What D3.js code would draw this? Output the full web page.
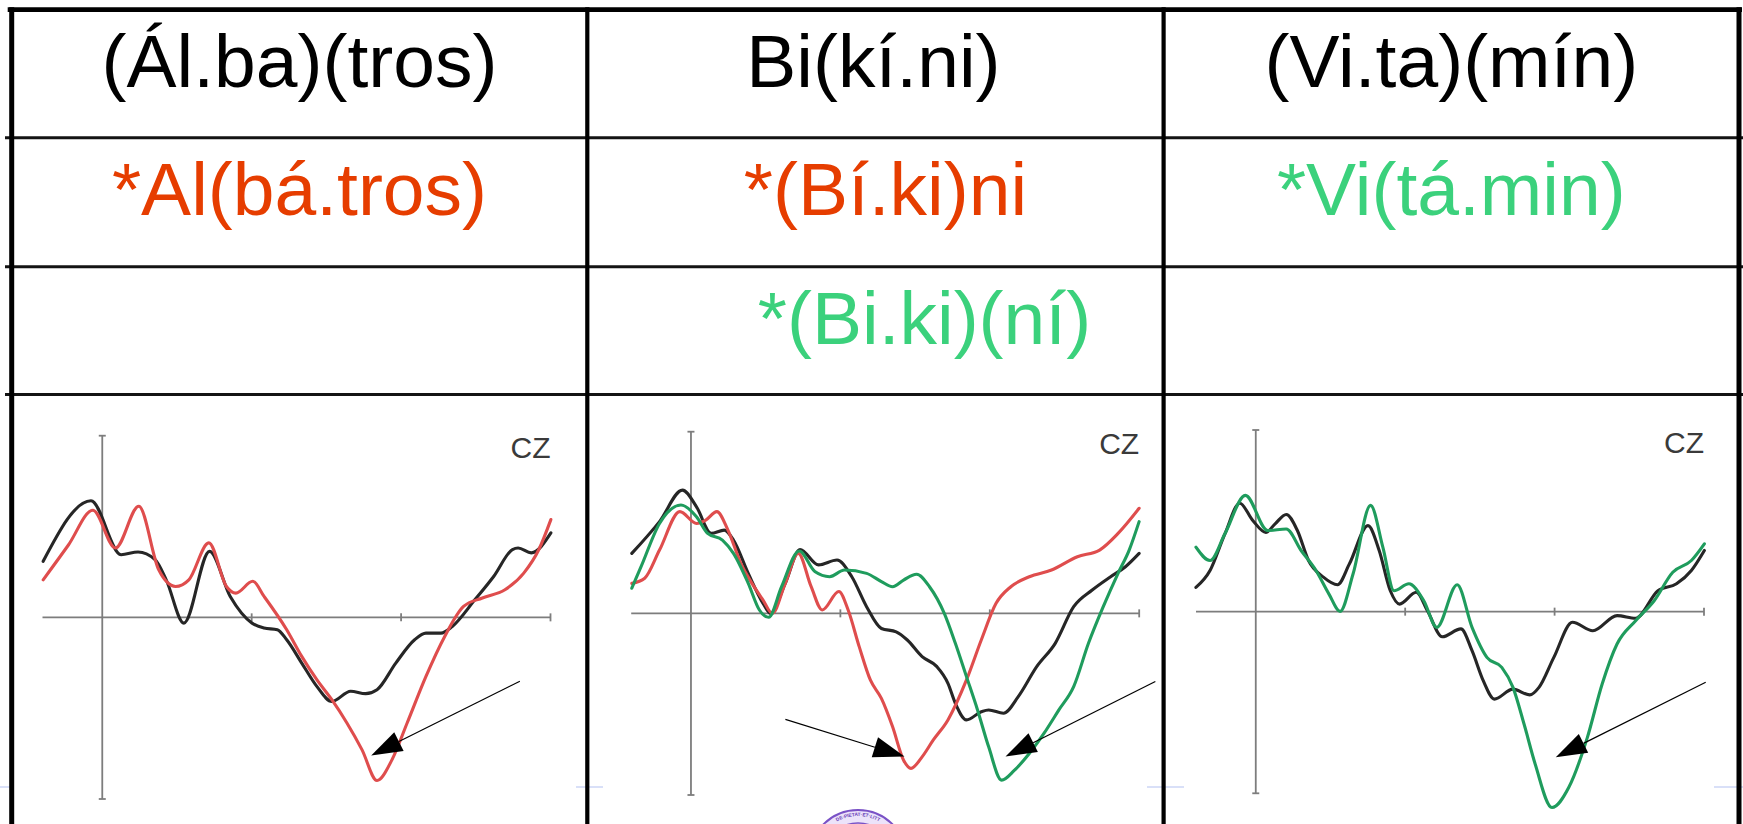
<!DOCTYPE html>
<html>
<head>
<meta charset="utf-8">
<script src="https://cdn.jsdelivr.net/npm/d3@7"></script>
<style>
  html, body { margin: 0; padding: 0; background: #fff; }
  svg { display: block; }
</style>
</head>
<body>
<svg id="chart" width="1743" height="824"></svg>
<script>
// ---------- table text ----------
const wordsRow1 = ["(Ál.ba)(tros)", "Bi(kí.ni)", "(Vi.ta)(mín)"];
const wordsRow2 = ["*Al(bá.tros)", "*(Bí.ki)ni", "*Vi(tá.min)"];
const wordsRow3 = ["", "*(Bi.ki)(ní)", ""];
const kindsRow2 = ["shiftLeft", "shiftLeft", "shiftRight"];
const kindsRow3 = ["", "shiftRight", ""];
const channelLabel = "CZ";
const sealText = "DE·PIETAT·ET·LITT";

// ---------- ERP axes ----------
const timeDomain = [-80, 600];      // ms
const timeTicks = [200, 400, 600];  // ms
const ampDomain = [-6, 6];          // µV

// ---------- Cz waveforms: [time (ms), amplitude (µV)] ----------
const albatrosControl = [
  [-79.1, 1.85], [-15.1, 3.85], [25.2, 2.07], [47.9, 2.16], [70.5, 1.91], [85.6, 1.24],
  [109.3, -0.19], [143.6, 2.18], [171.3, 0.69], [200.5, -0.19], [216.6, -0.35], [234.3, -0.41],
  [246.9, -0.74], [267.0, -1.51], [287.2, -2.28], [307.3, -2.78], [332.5, -2.44], [352.6, -2.52],
  [367.8, -2.39], [392.9, -1.51], [418.1, -0.74], [433.3, -0.52], [453.4, -0.52], [468.5, -0.30],
  [498.7, 0.58], [523.9, 1.35], [549.1, 2.24], [556.7, 2.29], [574.3, 2.13], [600.5, 2.79]
];
const albatrosShiftLeft = [
  [-79.1, 1.24], [-45.3, 2.39], [-12.6, 3.54], [17.6, 2.29], [48.9, 3.67], [75.6, 1.57],
  [98.2, 1.02], [115.9, 1.24], [142.6, 2.46], [166.2, 1.02], [178.8, 0.80], [201.5, 1.19],
  [216.6, 0.69], [246.9, -0.41], [267.0, -1.29], [287.2, -2.06], [307.3, -2.72], [327.5, -3.49],
  [347.6, -4.37], [367.8, -5.39], [387.9, -4.70], [408.1, -3.49], [433.3, -1.95], [458.4, -0.63],
  [483.6, 0.36], [508.8, 0.64], [539.0, 0.91], [564.2, 1.46], [584.4, 2.24], [600.5, 3.23]
];

const bikiniControl = [
  [-79.2, 1.98], [-42.1, 3.03], [-11.4, 4.07], [7.4, 3.52], [27.2, 2.64], [44.6, 2.75],
  [56.9, 2.42], [76.7, 1.32], [96.5, 0.33], [106.4, 0.00], [126.2, 0.99], [146.0, 2.11],
  [170.8, 1.60], [195.5, 1.76], [215.3, 1.21], [235.1, 0.22], [254.9, -0.50], [274.7, -0.61],
  [289.6, -0.88], [309.4, -1.43], [329.2, -1.76], [344.0, -2.31], [353.9, -2.97], [368.8, -3.52],
  [388.6, -3.25], [398.5, -3.19], [418.3, -3.30], [438.1, -2.75], [462.8, -1.76], [487.6, -0.99],
  [512.3, 0.22], [537.1, 0.77], [561.8, 1.21], [581.6, 1.54], [599.9, 1.98]
];
const bikiniShiftLeft = [
  [-79.2, 0.99], [-61.9, 1.16], [-42.1, 2.09], [-14.9, 3.36], [7.4, 2.97], [19.8, 3.08],
  [34.7, 3.36], [49.5, 2.75], [66.8, 1.65], [81.7, 0.99], [96.5, 0.44], [108.9, 0.00],
  [126.2, 0.99], [143.6, 1.98], [160.9, 0.88], [175.7, 0.11], [198.0, 0.72], [210.4, 0.11],
  [225.2, -1.10], [240.1, -2.20], [254.9, -2.81], [269.8, -3.74], [284.6, -4.85], [294.5, -5.12],
  [309.4, -4.74], [324.2, -4.19], [344.0, -3.52], [368.8, -2.20], [388.6, -0.88], [408.4, 0.33],
  [428.2, 0.88], [452.9, 1.21], [482.6, 1.43], [517.3, 1.87], [547.0, 2.09], [571.7, 2.64],
  [599.9, 3.47]
];
const bikiniShiftRight = [
  [-79.2, 0.83], [-66.8, 1.54], [-42.1, 2.97], [-13.4, 3.58], [7.4, 3.19], [22.3, 2.64],
  [42.1, 2.42], [56.9, 1.98], [76.7, 0.99], [91.6, 0.11], [104.0, -0.13], [121.3, 0.88],
  [145.0, 2.06], [165.8, 1.38], [185.6, 1.21], [205.4, 1.43], [235.1, 1.32], [254.9, 1.05],
  [269.8, 0.88], [284.6, 1.10], [302.0, 1.29], [319.3, 0.88], [339.1, 0.00], [353.9, -0.99],
  [368.8, -2.09], [383.6, -3.19], [398.5, -4.41], [415.8, -5.51], [433.1, -5.18], [452.9, -4.63],
  [472.7, -3.96], [492.5, -3.19], [512.3, -2.42], [532.1, -0.99], [551.9, 0.22], [571.7, 1.32],
  [586.6, 2.09], [599.9, 3.03]
];

const vitaminControl = [
  [-80.1, 0.80], [-61.2, 1.36], [-41.3, 2.57], [-21.4, 3.58], [-4.0, 3.01], [13.4, 2.62],
  [25.9, 2.90], [40.8, 3.21], [55.7, 2.68], [70.6, 1.69], [90.5, 1.14], [109.5, 0.89],
  [125.4, 1.58], [150.2, 2.84], [165.2, 2.02], [180.1, 0.69], [192.5, 0.25], [214.9, 0.64],
  [229.8, 0.03], [249.7, -0.83], [274.6, -0.57], [289.5, -1.29], [304.5, -2.28], [319.4, -2.89],
  [344.3, -2.56], [366.7, -2.75], [379.1, -2.50], [399.0, -1.51], [423.9, -0.35], [451.2, -0.63],
  [483.6, -0.13], [508.5, -0.22], [538.3, 0.69], [563.2, 0.92], [583.1, 1.36], [600.5, 2.02]
];
const vitaminShiftRight = [
  [-80.1, 2.13], [-61.2, 1.69], [-41.3, 2.57], [-13.9, 3.84], [15.9, 2.68], [40.8, 2.73],
  [60.7, 2.02], [80.6, 1.36], [98.0, 0.58], [112.9, 0.01], [130.3, 1.25], [153.7, 3.51],
  [170.1, 2.13], [185.1, 0.69], [205.0, 0.92], [224.9, 0.36], [242.3, -0.52], [269.6, 0.89],
  [289.5, -0.52], [309.4, -1.51], [329.3, -1.84], [344.3, -2.50], [359.2, -3.72], [374.1, -5.04],
  [396.5, -6.47], [418.9, -5.81], [443.8, -4.16], [463.7, -2.39], [483.6, -1.07], [508.5, -0.30],
  [533.3, 0.36], [558.2, 1.30], [583.1, 1.69], [600.5, 2.24]
];

// Arrows pointing at the negativity: [[tail t, tail v], [tip t, tip v]]
const albatrosArrows = [[[559, -2.11], [360, -4.56]]];
const bikiniArrows = [[[126.4, -3.5], [285.8, -4.73]], [[621.6, -2.25], [421, -4.73]]];
const vitaminArrows = [[[602.3, -2.33], [401.6, -4.81]]];

// ---------- styles & layout ----------
const colors = {
  control: "#262626",
  shiftLeft: "#df4d4d",
  shiftRight: "#1f9c5d",
  textBlack: "#000000",
  textShiftLeft: "#e63d00",
  textShiftRight: "#3bd17c",
  axis: "#7d7d7d",
  channel: "#3a3a3a"
};
const colEdges = [11.7, 587.3, 1163.6, 1739];
const rowEdges = [9.7, 137.7, 266.7, 394.5];
const textBaselineOffset = 77.5;
const textSize = 75;
const textNudge = { "*(Bí.ki)ni": 10, "*(Bi.ki)(ní)": 49, "Bi(kí.ni)": -2 };

const plotW = 508, plotH = 363.3;
const panelOrigins = [[42.5, 435.7], [631.2, 431.7], [1196, 430]];
const imageFrames = [[14, 576], [603, 1147], [1184, 1714]];

const panels = [
  { series: [["control", albatrosControl], ["shiftLeft", albatrosShiftLeft]], arrows: albatrosArrows },
  { series: [["control", bikiniControl], ["shiftLeft", bikiniShiftLeft], ["shiftRight", bikiniShiftRight]], arrows: bikiniArrows },
  { series: [["control", vitaminControl], ["shiftRight", vitaminShiftRight]], arrows: vitaminArrows }
];

const svg = d3.select("#chart");
const font = "'Liberation Sans', Arial, Helvetica, sans-serif";

svg.append("rect").attr("width", 1743).attr("height", 824).attr("fill", "#fff");

// faint slide rule behind the figure images
svg.append("line")
  .attr("x1", 0).attr("x2", 1743).attr("y1", 787).attr("y2", 787)
  .attr("stroke", "#cdd6f6").attr("stroke-width", 1.6);

// white figure backgrounds
svg.selectAll("rect.frame").data(imageFrames).join("rect")
  .attr("class", "frame")
  .attr("x", d => d[0]).attr("width", d => d[1] - d[0])
  .attr("y", 400).attr("height", 424).attr("fill", "#fff");

// ---------- ERP panels ----------
const x = d3.scaleLinear().domain(timeDomain).range([0, plotW]);
const y = d3.scaleLinear().domain(ampDomain).range([plotH, 0]);
const line = d3.line().x(d => x(d[0])).y(d => y(d[1])).curve(d3.curveMonotoneX);

panels.forEach((p, i) => {
  const g = svg.append("g").attr("transform", `translate(${panelOrigins[i][0]},${panelOrigins[i][1]})`);
  const axis = g.append("g").attr("stroke", colors.axis).attr("stroke-width", 1.8).attr("fill", "none");
  // amplitude axis with end caps
  axis.append("line").attr("x1", x(0)).attr("x2", x(0)).attr("y1", y(ampDomain[1])).attr("y2", y(ampDomain[0]));
  axis.selectAll("line.cap").data(ampDomain).join("line").attr("class", "cap")
    .attr("x1", x(0) - 3.5).attr("x2", x(0) + 3.5).attr("y1", d => y(d)).attr("y2", d => y(d));
  // time axis with ticks
  axis.append("line").attr("x1", x(timeDomain[0])).attr("x2", x(timeDomain[1])).attr("y1", y(0)).attr("y2", y(0));
  axis.selectAll("line.tick").data(timeTicks).join("line").attr("class", "tick")
    .attr("x1", d => x(d)).attr("x2", d => x(d)).attr("y1", y(0) - 4).attr("y2", y(0) + 4);

  g.append("text").text(channelLabel)
    .attr("x", x(timeDomain[1])).attr("y", 22.5)
    .attr("text-anchor", "end").attr("font-family", font).attr("font-size", 30)
    .attr("fill", colors.channel);

  g.selectAll("path.wave").data(p.series).join("path").attr("class", "wave")
    .attr("d", d => line(d[1]))
    .attr("fill", "none").attr("stroke", d => colors[d[0]])
    .attr("stroke-width", 3.1)
    .attr("stroke-linejoin", "round").attr("stroke-linecap", "round");

  // arrows
  p.arrows.forEach(a => {
    const x0 = x(a[0][0]), y0 = y(a[0][1]), x1 = x(a[1][0]), y1 = y(a[1][1]);
    const len = Math.hypot(x1 - x0, y1 - y0), ux = (x1 - x0) / len, uy = (y1 - y0) / len;
    const headL = 31, headW = 10.5;
    const bx = x1 - ux * headL, by = y1 - uy * headL;
    g.append("line").attr("x1", x0).attr("y1", y0).attr("x2", bx).attr("y2", by)
      .attr("stroke", "#000").attr("stroke-width", 1.2);
    g.append("path")
      .attr("d", `M${x1},${y1}L${bx - uy * headW},${by + ux * headW}L${bx + uy * headW},${by - ux * headW}Z`)
      .attr("fill", "#000");
  });
});

// ---------- university seal (only its top shows) ----------
const seal = svg.append("g").attr("transform", "translate(858,859)");
seal.append("circle").attr("r", 49).attr("fill", "#ece3fa").attr("stroke", "#7a52c6").attr("stroke-width", 2);
seal.append("circle").attr("r", 36).attr("fill", "#e2d6f7").attr("stroke", "#7a52c6").attr("stroke-width", 1.4);
seal.append("path").attr("id", "sealArc").attr("d", "M-43,0A43,43 0 0 1 43,0").attr("fill", "none");
seal.append("text").attr("font-family", font).attr("font-size", 4.8).attr("font-weight", "bold").attr("fill", "#6a3fb8")
  .append("textPath").attr("href", "#sealArc").attr("startOffset", "50%").attr("text-anchor", "middle")
  .text(sealText);

// ---------- table grid ----------
const grid = svg.append("g").attr("stroke", "#000");
// horizontal rules
grid.append("line").attr("x1", colEdges[0] - 4).attr("x2", colEdges[3] + 3)
  .attr("y1", rowEdges[0]).attr("y2", rowEdges[0]).attr("stroke-width", 4.8);
grid.selectAll("line.h").data(rowEdges.slice(1)).join("line").attr("class", "h")
  .attr("x1", 5).attr("x2", 1743).attr("y1", d => d).attr("y2", d => d)
  .attr("stroke-width", 3).attr("stroke", "#141414");
// vertical rules
grid.selectAll("line.v").data(colEdges).join("line").attr("class", "v")
  .attr("x1", d => d).attr("x2", d => d).attr("y1", rowEdges[0] - 2.4).attr("y2", 824)
  .attr("stroke-width", (d, i) => (i === 0 || i === colEdges.length - 1) ? 5 : 4.2);

// ---------- table text ----------
const cellText = [];
[wordsRow1, wordsRow2, wordsRow3].forEach((row, r) => {
  row.forEach((w, c) => {
    if (!w) return;
    let fill = colors.textBlack;
    const kind = r === 1 ? kindsRow2[c] : r === 2 ? kindsRow3[c] : "";
    if (kind === "shiftLeft") fill = colors.textShiftLeft;
    if (kind === "shiftRight") fill = colors.textShiftRight;
    cellText.push({ w, r, c, fill });
  });
});
svg.selectAll("text.cell").data(cellText).join("text").attr("class", "cell")
  .attr("x", d => (colEdges[d.c] + colEdges[d.c + 1]) / 2 + (textNudge[d.w] || 0))
  .attr("y", d => rowEdges[d.r] + textBaselineOffset)
  .attr("text-anchor", "middle")
  .attr("font-family", font).attr("font-size", textSize)
  .attr("fill", d => d.fill)
  .text(d => d.w);
</script>
</body>
</html>
